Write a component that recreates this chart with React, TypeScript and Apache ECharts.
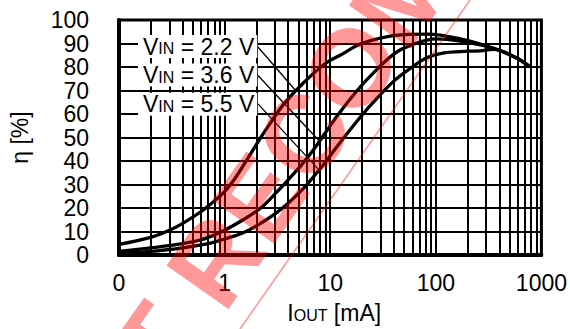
import React, { useEffect, useRef } from "react";
import * as echarts from "echarts";

const FONT = '"Liberation Sans", Arial, Helvetica, sans-serif';

// Efficiency curves: [IOUT mA, efficiency %]
const curve22: number[][] = [
  [0.1, 4.5], [0.2, 7.5], [0.3, 10.5], [0.42, 14], [0.6, 18.5], [0.8, 23], [1.0, 27],
  [1.23, 32], [1.6, 40], [2.2, 50], [2.7, 56], [3.6, 64], [5.5, 73], [9, 81.5],
  [13, 85.5], [18.6, 89.5], [28, 92], [41, 93.5], [83, 94], [170, 92], [350, 88],
  [600, 83.5], [780, 80],
];
const curve36: number[][] = [
  [0.1, 1.5], [0.2, 3], [0.4, 4.8], [0.6, 6.5], [0.8, 8.5], [1.0, 10.5], [1.5, 15],
  [2.2, 20], [3, 26], [4, 32], [5.5, 39], [7, 45], [9, 52], [12, 60], [18, 70],
  [25, 77], [40, 85.5], [60, 89.5], [100, 92], [170, 91], [350, 88], [600, 83.5],
  [780, 80],
];
const curve55: number[][] = [
  [0.1, 0.8], [0.2, 1.5], [0.4, 3], [0.6, 4.3], [0.8, 5.5], [1.0, 6.8], [1.5, 9.5],
  [2.2, 13.5], [3, 17.5], [4, 22], [5.5, 28], [7, 33.5], [9, 39.5], [12, 47],
  [18, 57], [25, 64.5], [40, 74], [60, 80], [83, 84], [120, 86], [170, 86.5],
  [280, 87], [350, 87.5], [600, 83.5], [780, 80],
];

// Leader lines: from label edge to curve, [start, end] in data coords
const leader22 = [[2.07, 88.5], [4.7, 70]];
const leader36 = [[2.07, 76.4], [7.9, 48.5]];
const leader55 = [[2.07, 64.3], [7.9, 36]];

const seriesNames = ["2.2 V", "3.6 V", "5.5 V"];

const xMajor = [0.1, 1, 10, 100, 1000];
const xMajorLabels = ["0", "1", "10", "100", "1000"];
const decades = [0.1, 1, 10, 100];
const minorMultipliers = [1, 2, 3, 4, 5, 6, 7, 8, 9];

const yTicks = [0, 10, 20, 30, 40, 50, 60, 70, 80, 90, 100];

export default function App() {
  const ref = useRef<HTMLDivElement>(null);
  useEffect(() => {
    const chart = echarts.init(ref.current!, null, { renderer: "svg" });

    const vLines: any[] = [];
    decades.forEach((d) =>
      minorMultipliers.forEach((m) => {
        const v = +(d * m).toPrecision(3);
        if (v > 0.1) vLines.push({ xAxis: v });
      })
    );

    const labelRich = {
      v: { fontSize: 23, fontFamily: FONT, fill: "#000", color: "#000" },
      s: { fontSize: 16, fontFamily: FONT, fill: "#000", color: "#000", padding: [4, 0, 0, 0] },
    };
    const labelY = [46.5, 75, 104.3];
    const labels = seriesNames.map((n, i) => ({
      type: "text",
      x: 138,
      y: labelY[i],
      z: 20,
      style: {
        text: `{v|V}{s|IN}{v| = ${n}}`,
        rich: labelRich,
        fill: "#000",
        backgroundColor: "#fff",
        padding: [0, 3, 0, 5],
        verticalAlign: "middle",
        align: "left",
      },
    }));

    const ang = (55 * Math.PI) / 180;
    const option: any = {
      animation: false,
      backgroundColor: "#fff",
      grid: {
        left: 117,
        right: 24,
        top: 20,
        bottom: 74,
        show: true,
        borderColor: "#000",
        borderWidth: 3,
        backgroundColor: "transparent",
      },
      xAxis: {
        type: "log",
        logBase: 10,
        min: 0.1,
        max: 1000,
        name: "{a|I}{b|OUT}{a| [mA]}",
        nameLocation: "middle",
        nameGap: 46,
        nameTextStyle: {
          padding: [0, 0, 0, 8],
          rich: {
            a: { fontSize: 23, fontFamily: FONT, color: "#000" },
            b: { fontSize: 16, fontFamily: FONT, color: "#000", padding: [5, 0, 0, 0] },
          },
        },
        axisLine: { show: true, lineStyle: { color: "#000", width: 4 } },
        axisTick: { show: false },
        splitLine: { show: false },
        minorTick: { show: false },
        axisLabel: {
          color: "#000",
          fontSize: 23,
          fontFamily: FONT,
          margin: 16,
          formatter: (v: number) => {
            const i = xMajor.findIndex((t) => Math.abs(t - v) / t < 1e-6);
            return i >= 0 ? xMajorLabels[i] : "";
          },
        },
      },
      yAxis: {
        type: "value",
        min: yTicks[0],
        max: yTicks[yTicks.length - 1],
        interval: 10,
        name: "η [%]",
        nameLocation: "middle",
        nameRotate: 90,
        nameGap: 88,
        nameTextStyle: { fontSize: 23, fontFamily: FONT, color: "#000" },
        axisLine: { show: true, lineStyle: { color: "#000", width: 4 } },
        axisTick: { show: false },
        splitLine: { show: true, lineStyle: { color: "#000", width: 2 } },
        axisLabel: { color: "#000", fontSize: 23, fontFamily: FONT, margin: 30 },
      },
      series: [
        {
          type: "line",
          data: [],
          z: 1,
          silent: true,
          markLine: {
            silent: true,
            symbol: ["none", "none"],
            label: { show: false },
            lineStyle: { color: "#000", width: 2, type: "solid" },
            data: vLines,
          },
        },
        ...[curve22, curve36, curve55].map((c, i) => ({
          name: seriesNames[i],
          type: "line",
          data: c,
          smooth: 0.35,
          showSymbol: false,
          symbol: "none",
          z: 5,
          lineStyle: { color: "#000", width: 3.3 },
        })),
        {
          type: "line",
          data: [],
          z: 6,
          silent: true,
          markLine: {
            silent: true,
            symbol: ["none", "none"],
            label: { show: false },
            lineStyle: { color: "#000", width: 1.3, type: "solid" },
            data: [leader22, leader36, leader55].map((l) => [
              { coord: l[0] },
              { coord: l[1] },
            ]),
          },
        },
      ],
      graphic: [
        ...labels,
        {
          type: "text",
          x: 42,
          y: 508,
          rotation: ang,
          z: 100,
          silent: true,
          style: {
            text: "NOT RECOMMENDED",
            fontSize: 110,
            fontWeight: "bold",
            fontFamily: FONT,
            fill: "rgba(255,0,0,0.4)",
            align: "left",
            verticalAlign: "middle",
          },
        },
        {
          type: "line",
          z: 100,
          silent: true,
          shape: { x1: 240, y1: 329, x2: 470, y2: 0 },
          style: { stroke: "rgba(255,0,0,0.4)", lineWidth: 1.6 },
        },
      ],
    };
    chart.setOption(option);
    return () => chart.dispose();
  }, []);
  return (
    <div
      ref={ref}
      style={{ position: "fixed", left: 0, top: 0, width: 570, height: 329 }}
    />
  );
}
